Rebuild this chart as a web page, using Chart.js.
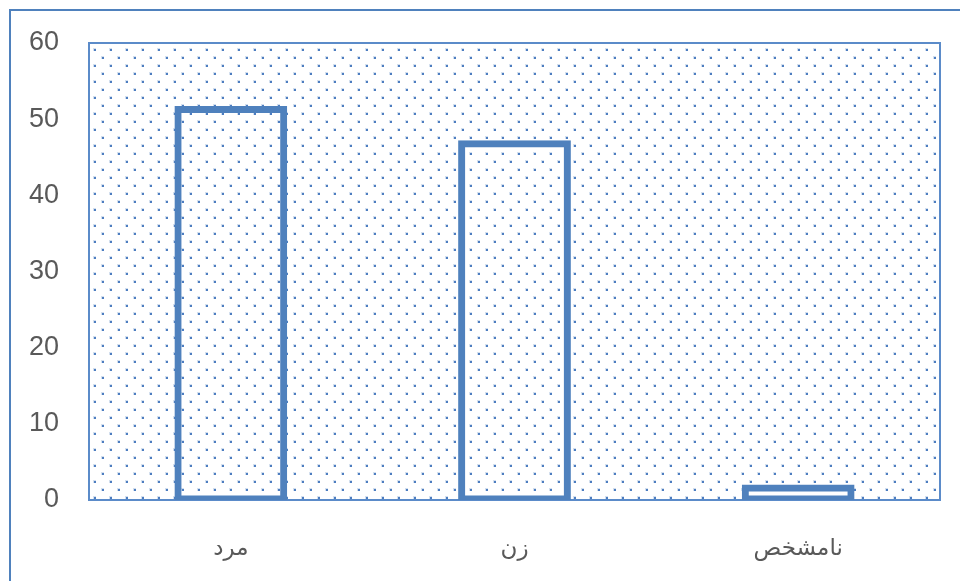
<!DOCTYPE html>
<html>
<head>
<meta charset="utf-8">
<script src="https://cdn.jsdelivr.net/npm/chart.js@4"></script>
<style>
  html, body { margin: 0; padding: 0; background: #fff; }
  #wrap { width: 960px; height: 581px; }
</style>
</head>
<body>
<div id="wrap"><canvas id="genderChart" width="960" height="581"></canvas></div>
<script>
// categories and percentages
const categories = ['مرد', 'زن', 'نامشخص'];
const percents = [51.4, 46.9, 1.7];
const yTicks = [0, 10, 20, 30, 40, 50, 60];

const blue = '#4f81bd';

// dotted fill for the plot area
function dotPattern(ctx) {
    const tile = document.createElement('canvas');
    tile.width = 16;
    tile.height = 16;
    const t = tile.getContext('2d');
    t.fillStyle = 'rgba(79,129,189,0.25)';
    t.fillRect(13, 0, 3, 3);
    t.fillRect(5, 8, 3, 3);
    t.fillStyle = 'rgba(70,120,190,0.95)';
    t.fillRect(14, 1, 2, 2);
    t.fillRect(6, 9, 2, 2);
    return ctx.createPattern(tile, 'repeat');
}

const frame = {
    id: 'frame',
    beforeDatasetsDraw(chart) {
        const { ctx, chartArea: a } = chart;
        ctx.save();
        ctx.fillStyle = dotPattern(ctx);
        ctx.fillRect(a.left, a.top, a.right - a.left, a.bottom - a.top);
        ctx.lineWidth = 2;
        ctx.strokeStyle = '#5b8bc9';
        ctx.strokeRect(a.left, a.top, a.right - a.left, a.bottom - a.top);
        ctx.restore();
    },
    afterDraw(chart) {
        const ctx = chart.ctx;
        ctx.save();
        ctx.lineWidth = 2;
        ctx.strokeStyle = blue;
        ctx.strokeRect(10, 10, 1000, 700);
        ctx.restore();
    }
};

const ctx = document.getElementById('genderChart').getContext('2d');
new Chart(ctx, {
    type: 'bar',
    data: {
        labels: categories,
        datasets: [{
            data: percents,
            backgroundColor: 'rgba(0,0,0,0)',
            borderColor: blue,
            borderWidth: 2,
            borderSkipped: false,
            inflateAmount: 2.5,
            barPercentage: 0.38,
            categoryPercentage: 1
        }]
    },
    options: {
        responsive: false,
        animation: false,
        layout: { padding: { top: 43, right: 20, left: 0, bottom: 0 } },
        plugins: {
            legend: { display: false },
            tooltip: { enabled: false }
        },
        scales: {
            y: {
                min: 0,
                max: 60,
                afterFit(scale) {
                    scale.width = 89;
                    scale.paddingTop = 0;
                    scale.paddingBottom = 0;
                },
                afterBuildTicks(scale) { scale.ticks = yTicks.map(v => ({ value: v })); },
                grid: { display: false, drawTicks: false },
                border: { display: false },
                ticks: {
                    padding: 30,
                    color: '#595959',
                    font: { family: 'Liberation Sans', size: 27 }
                }
            },
            x: {
                afterFit(scale) { scale.height = 81; },
                grid: { display: false, drawTicks: false },
                border: { display: false },
                ticks: {
                    padding: 35,
                    color: '#595959',
                    font: { family: 'DejaVu Sans', size: 23 }
                }
            }
        }
    },
    plugins: [frame]
});
</script>
</body>
</html>
